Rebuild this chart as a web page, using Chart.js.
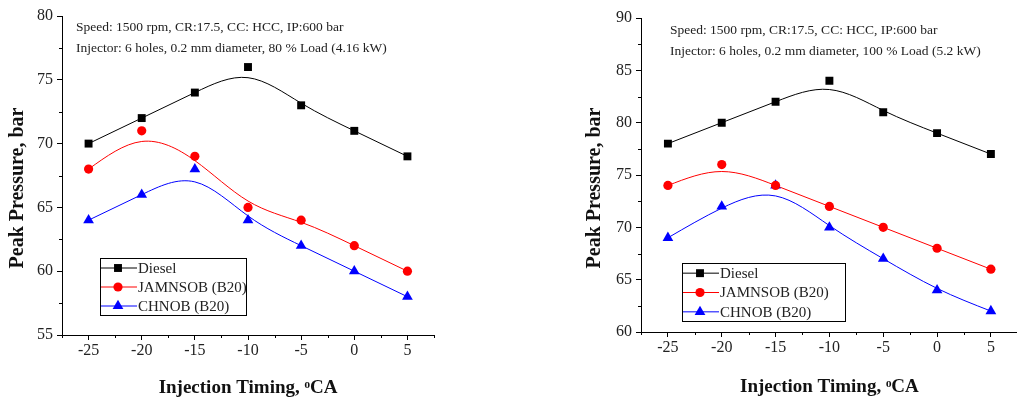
<!DOCTYPE html>
<html>
<head>
<meta charset="utf-8">
<script src="https://cdn.jsdelivr.net/npm/chart.js@4.4.1/dist/chart.umd.min.js"></script>
<style>
  html, body { margin: 0; padding: 0; background: #fff; overflow: hidden; }
  #wrap { position: relative; width: 1017px; height: 401px; overflow: hidden; }
  .box { position: absolute; top: 0; height: 401px; }
  #left { left: 0; width: 510px; }
  #right { left: 510px; width: 514px; }
</style>
</head>
<body>
<div id="wrap">
  <div class="box" id="left"><canvas id="chart80"></canvas></div>
  <div class="box" id="right"><canvas id="chart100"></canvas></div>
</div>
<script>
  // injection timing (deg CA)
  const timing = [-25, -20, -15, -10, -5, 0, 5];
  const seriesNames = ['Diesel', 'JAMNSOB (B20)', 'CHNOB (B20)'];

  // 80 % load (4.16 kW)
  const diesel80 = [70, 72, 74, 76, 73, 71, 69];
  const jamnsob80 = [68, 71, 69, 65, 64, 62, 60];
  const chnob80 = [64, 66, 68, 64, 62, 60, 58];

  // 100 % load (5.2 kW)
  const diesel100 = [78, 80, 82, 84, 81, 79, 77];
  const jamnsob100 = [74, 76, 74, 72, 70, 68, 66];
  const chnob100 = [69, 72, 74, 70, 67, 64, 62];

  const xTicks = [-25, -20, -15, -10, -5, 0, 5];
  const notes80 = ['Speed: 1500 rpm, CR:17.5, CC: HCC, IP:600 bar',
                   'Injector: 6 holes, 0.2 mm diameter, 80 % Load (4.16 kW)'];
  const notes100 = ['Speed: 1500 rpm, CR:17.5, CC: HCC, IP:600 bar',
                    'Injector: 6 holes, 0.2 mm diameter, 100 % Load (5.2 kW)'];

  const FONT = '"Liberation Serif", "Times New Roman", serif';
  const colors = ['#000000', '#ff0000', '#0000ff'];
  const shapes = ['rect', 'circle', 'triangle'];
  const radii = [5.6, 4.6, 6.2];

  function toPoints(vals) {
    return timing.map((t, i) => ({ x: t, y: vals[i] }));
  }

  // short outward ticks between the labelled ones
  const minorTicks = {
    id: 'minorTicks',
    afterDraw(chart) {
      const ctx = chart.ctx;
      const xs = chart.scales.x, ys = chart.scales.y;
      const area = chart.chartArea;
      ctx.save();
      ctx.strokeStyle = '#000';
      ctx.lineWidth = 1;
      ctx.beginPath();
      for (let v = xs.min; v <= xs.max + 1e-6; v += 2.5) {
        if (Math.abs(v % 5) < 1e-6) continue;
        const px = Math.round(xs.getPixelForValue(v)) + 0.5;
        ctx.moveTo(px, area.bottom);
        ctx.lineTo(px, area.bottom + 3);
      }
      for (let v = ys.min; v <= ys.max + 1e-6; v += 2.5) {
        if (Math.abs(v % 5) < 1e-6) continue;
        const py = Math.round(ys.getPixelForValue(v)) + 0.5;
        ctx.moveTo(area.left, py);
        ctx.lineTo(area.left - 3, py);
      }
      ctx.stroke();
      ctx.restore();
    }
  };

  // B-spline connection (like Origin), control points = the plotted points
  const bspline = {
    id: 'bspline',
    beforeDatasetsDraw(chart) {
      const ctx = chart.ctx;
      ctx.save();
      ctx.lineWidth = 1;
      chart.data.datasets.forEach((ds, i) => {
        const pts = chart.getDatasetMeta(i).data.map(p => ({ x: p.x, y: p.y }));
        const n = pts.length;
        const P = [{ x: 2 * pts[0].x - pts[1].x, y: 2 * pts[0].y - pts[1].y }]
          .concat(pts)
          .concat([{ x: 2 * pts[n - 1].x - pts[n - 2].x, y: 2 * pts[n - 1].y - pts[n - 2].y }]);
        ctx.strokeStyle = ds.borderColor;
        ctx.beginPath();
        for (let k = 1; k < P.length - 2; k++) {
          const a = P[k - 1], b = P[k], c = P[k + 1], d = P[k + 2];
          if (k === 1) ctx.moveTo((a.x + 4 * b.x + c.x) / 6, (a.y + 4 * b.y + c.y) / 6);
          ctx.bezierCurveTo(
            (2 * b.x + c.x) / 3, (2 * b.y + c.y) / 3,
            (b.x + 2 * c.x) / 3, (b.y + 2 * c.y) / 3,
            (b.x + 4 * c.x + d.x) / 6, (b.y + 4 * c.y + d.y) / 6
          );
        }
        ctx.stroke();
      });
      ctx.restore();
    }
  };

  function drawMarker(ctx, shape, x, y, r) {
    ctx.beginPath();
    if (shape === 'rect') {
      const s = r * Math.SQRT1_2;
      ctx.rect(x - s, y - s, 2 * s, 2 * s);
    } else if (shape === 'circle') {
      ctx.arc(x, y, r, 0, Math.PI * 2);
    } else {
      ctx.moveTo(x, y - r);
      ctx.lineTo(x + r * 0.866, y + r * 0.5);
      ctx.lineTo(x - r * 0.866, y + r * 0.5);
      ctx.closePath();
    }
    ctx.fill();
  }

  // notes text, y title and boxed legend inside the plot
  const extras = {
    id: 'extras',
    afterDraw(chart, args, opts) {
      const ctx = chart.ctx;
      ctx.save();
      ctx.fillStyle = '#222';
      ctx.font = '13.5px ' + FONT;
      ctx.textBaseline = 'middle';
      ctx.textAlign = 'left';
      opts.notes.forEach((line, i) => {
        ctx.fillText(line, opts.noteX, opts.noteY + i * 21.5);
      });

      ctx.save();
      ctx.translate(opts.yTitleX, opts.yTitleY);
      ctx.rotate(-Math.PI / 2);
      ctx.textAlign = 'center';
      ctx.fillStyle = '#111';
      ctx.font = 'bold 20px ' + FONT;
      ctx.fillText('Peak Pressure, bar', 0, 0);
      ctx.restore();

      const b = opts.legend;
      ctx.strokeStyle = '#000';
      ctx.lineWidth = 1;
      ctx.strokeRect(b.x + 0.5, b.y + 0.5, b.w, b.h);
      ctx.font = '15px ' + FONT;
      const rowH = b.h / 3;
      chart.data.datasets.forEach((ds, i) => {
        const cy = b.y + rowH * (i + 0.5) + 0.5;
        ctx.strokeStyle = ds.borderColor;
        ctx.beginPath();
        ctx.moveTo(b.x + 1, cy);
        ctx.lineTo(b.x + 37, cy);
        ctx.stroke();
        ctx.fillStyle = ds.backgroundColor;
        drawMarker(ctx, shapes[i], b.x + 18, cy, radii[i]);
        ctx.fillStyle = '#222';
        ctx.fillText(ds.label, b.x + 38, cy + 1);
      });
      ctx.restore();
    }
  };

  function makeChart(id, vals, cfg) {
    const datasets = vals.map((v, i) => ({
      label: seriesNames[i],
      data: toPoints(v),
      borderColor: colors[i],
      backgroundColor: colors[i],
      borderWidth: 1,
      pointStyle: shapes[i],
      pointRadius: radii[i],
      pointHoverRadius: radii[i],
      pointBorderWidth: 0,
      showLine: false
    }));

    return new Chart(document.getElementById(id), {
      type: 'scatter',
      data: { datasets: datasets },
      options: {
        responsive: true,
        maintainAspectRatio: false,
        animation: false,
        layout: { padding: cfg.padding },
        plugins: {
          legend: { display: false },
          tooltip: { enabled: false },
          extras: cfg.extras
        },
        scales: {
          x: {
            type: 'linear',
            min: -27.5,
            max: 7.5,
            afterFit: (s) => { s.height = cfg.xHeight; },
            afterBuildTicks: (s) => { s.ticks = xTicks.map(v => ({ value: v })); },
            border: { color: '#000', width: 1 },
            grid: { drawOnChartArea: false, color: '#000', tickLength: 5 },
            ticks: { color: '#222', font: { family: FONT, size: 16 }, padding: 1 },
            title: {
              display: true,
              text: 'Injection Timing, ᵒCA',
              color: '#111',
              font: { family: FONT, size: 19, weight: 'bold' },
              padding: { bottom: cfg.xTitlePad, top: 0 }
            }
          },
          y: {
            min: cfg.yMin,
            max: cfg.yMax,
            afterFit: (s) => { s.width = cfg.yWidth; },
            border: { color: '#000', width: 1 },
            grid: { drawOnChartArea: false, color: '#000', tickLength: 5 },
            ticks: { stepSize: 5, color: '#222', font: { family: FONT, size: 16 }, padding: 4 }
          }
        }
      },
      plugins: [minorTicks, bspline, extras]
    });
  }

  makeChart('chart80', [diesel80, jamnsob80, chnob80], {
    padding: { top: 16, right: 76, bottom: 0, left: 0 },
    yMin: 55, yMax: 80,
    yWidth: 62,
    xHeight: 66, xTitlePad: 2,
    extras: {
      notes: notes80, noteX: 76, noteY: 27,
      yTitleX: 18, yTitleY: 188,
      legend: { x: 100, y: 258, w: 146, h: 57 }
    }
  });

  makeChart('chart100', [diesel100, jamnsob100, chnob100], {
    padding: { top: 18, right: 0, bottom: 0, left: 0 },
    yMin: 60, yMax: 90,
    yWidth: 131,
    xHeight: 69, xTitlePad: 3,
    extras: {
      notes: notes100, noteX: 160, noteY: 30,
      yTitleX: 85, yTitleY: 188,
      legend: { x: 172, y: 263, w: 163, h: 58 }
    }
  });
</script>
</body>
</html>
